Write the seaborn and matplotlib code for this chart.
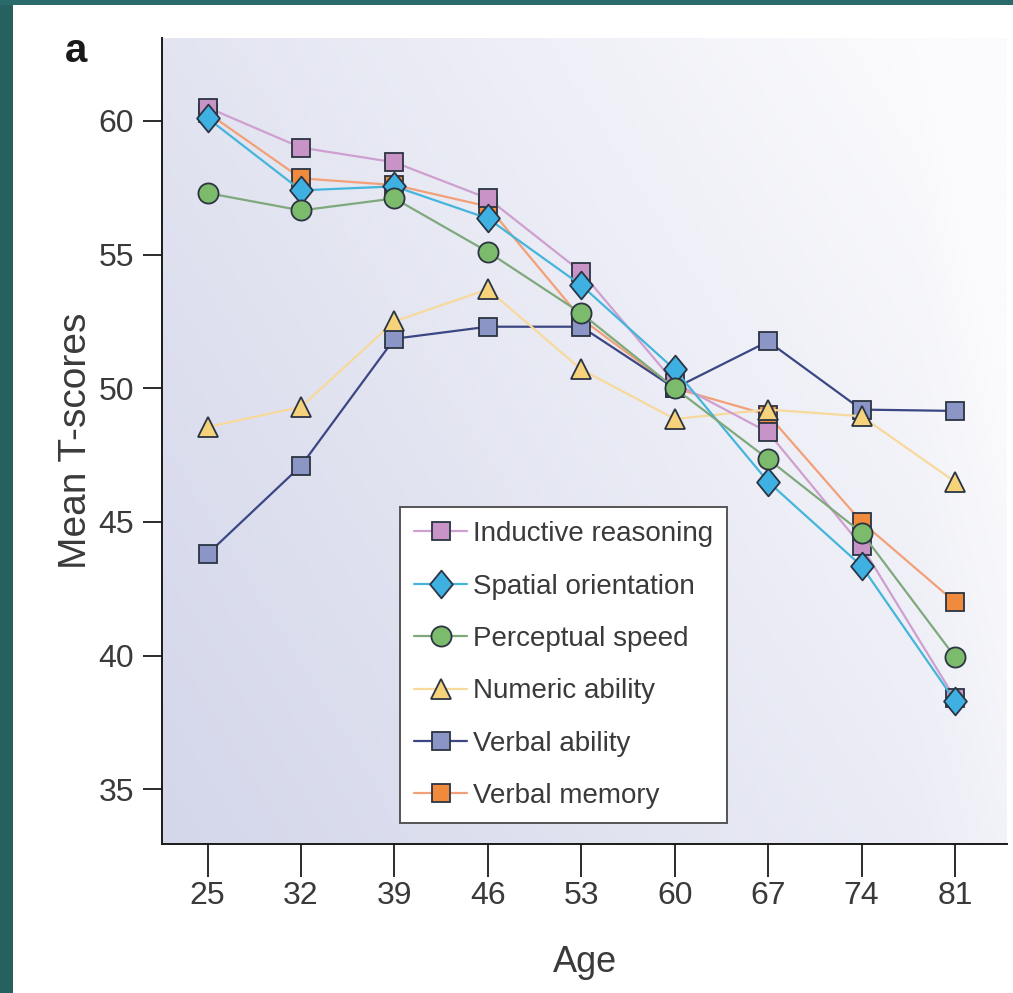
import numpy as np
import pandas as pd
import matplotlib
matplotlib.use("Agg")
import matplotlib.pyplot as plt
import seaborn as sns
from matplotlib import font_manager as fm
from matplotlib.path import Path
from matplotlib.patches import Rectangle

# ---------------- data ----------------
ages = [25, 32, 39, 46, 53, 60, 67, 74, 81]
inductive_reasoning = [60.5, 59.0, 58.45, 57.1, 54.35, 50.2, 48.35, 44.1, 38.4]
spatial_orientation = [60.1, 57.4, 57.55, 56.35, 53.85, 50.7, 46.5, 43.35, 38.3]
perceptual_speed = [57.3, 56.65, 57.1, 55.1, 52.8, 50.0, 47.35, 44.6, 39.95]
numeric_ability = [48.55, 49.3, 52.5, 53.7, 50.7, 48.85, 49.2, 48.95, 46.5]
verbal_ability = [43.8, 47.1, 51.85, 52.3, 52.3, 50.0, 51.75, 49.2, 49.15]
verbal_memory = [60.3, 57.85, 57.6, 56.8, 52.6, 50.0, 49.0, 45.0, 42.0]
yticks = [35, 40, 45, 50, 55, 60]

# ---------------- fonts ----------------
def has_font(name):
    try:
        fm.findfont(fm.FontProperties(family=name), fallback_to_default=False)
        return True
    except Exception:
        return False

main_font = "Liberation Sans" if has_font("Liberation Sans") else "DejaVu Sans"

sns.set_style("white")
plt.rcParams["font.family"] = [main_font, "DejaVu Sans"]

fig = plt.figure(figsize=(10.13, 9.93), dpi=100)
fig.patch.set_facecolor("white")

# teal frame strips
fig.patches.append(Rectangle((0, 0), 13 / 1013, 1, transform=fig.transFigure,
                             facecolor="#27615f", edgecolor="none", zorder=0))
fig.patches.append(Rectangle((0, 1 - 5 / 993), 1, 5 / 993, transform=fig.transFigure,
                             facecolor="#2b6a6a", edgecolor="none", zorder=0))

ax = fig.add_axes([162 / 1013, 149 / 993, 845 / 1013, 806 / 993])

# gradient background
nx, ny = 200, 200
u = np.linspace(0, 1, nx)[None, :]
v = np.linspace(0, 1, ny)[:, None]
t = np.clip(0.68 * u + 0.40 * v + 0.10 * np.clip(u - 0.9, 0, None) / 0.1, 0, 1)
t = t ** 1.1
dark = np.array([0xd4, 0xd7, 0xea]) / 255.0
light = np.array([0xfb, 0xfb, 0xfd]) / 255.0
img = dark[None, None, :] * (1 - t[..., None]) + light[None, None, :] * t[..., None]
ax.imshow(img, extent=[0, 1, 0, 1], transform=ax.transAxes, origin="lower",
          aspect="auto", zorder=0, interpolation="bilinear")

diamond = Path([(0, 1), (0.82, 0), (0, -1), (-0.82, 0), (0, 1)],
               [Path.MOVETO, Path.LINETO, Path.LINETO, Path.LINETO, Path.CLOSEPOLY])

edge = "#2b3442"
series = [
    ("Verbal memory", verbal_memory, "#f2a078", "#f08a3c", "s", 13),
    ("Verbal ability", verbal_ability, "#3b4683", "#8b95c6", "s", 13),
    ("Numeric ability", numeric_ability, "#f8d99c", "#f6d27a", "^", 15),
    ("Inductive reasoning", inductive_reasoning, "#cf9fcf", "#c893c6", "s", 13),
    ("Spatial orientation", spatial_orientation, "#45b5dc", "#3fb0e2", diamond, 20),
    ("Perceptual speed", perceptual_speed, "#7fa97c", "#7dbb6c", "o", 14.5),
]

handles = {}
for i, (name, vals, lc, fc, mk, ms) in enumerate(series):
    df = pd.DataFrame({"Age": ages, "T": vals})
    sns.lineplot(data=df, x="Age", y="T", ax=ax, color=lc, linewidth=1.6,
                 marker=mk, markersize=ms, markerfacecolor=fc,
                 markeredgecolor=edge, markeredgewidth=1.3, zorder=3 + i,
                 label=name)
    handles[name] = ax.get_lines()[-1]

ax.set_xlim(21.58, 84.9)
ax.set_ylim(32.95, 63.1)
ax.set_xticks(ages)
ax.set_xticklabels([str(a) for a in ages])
ax.set_yticks(yticks)
ax.set_yticklabels([str(y) for y in yticks])

for side in ["top", "right"]:
    ax.spines[side].set_visible(False)
for side in ["left", "bottom"]:
    ax.spines[side].set_visible(True)
    ax.spines[side].set_color("#1a1a1a")
    ax.spines[side].set_linewidth(1.4)

ax.tick_params(axis="y", direction="out", length=14, width=1.3, color="#1a1a1a",
               labelsize=23, labelcolor="#3a3a3a", pad=6, left=True)
ax.tick_params(axis="x", direction="out", length=24, width=1.3, color="#1a1a1a",
               labelsize=23, labelcolor="#3a3a3a", pad=3, bottom=True)

ax.set_xlabel("Age", fontsize=26, color="#3a3a3a", labelpad=24)
ax.set_ylabel("Mean T-scores", fontsize=28, color="#3a3a3a", labelpad=3)

order = ["Inductive reasoning", "Spatial orientation", "Perceptual speed",
         "Numeric ability", "Verbal ability", "Verbal memory"]
leg = ax.legend([handles[n] for n in order], order, loc="lower left",
                bbox_to_anchor=(0.282, 0.026), borderaxespad=0, fontsize=20,
                frameon=True, fancybox=False, framealpha=1, facecolor="white",
                edgecolor="#555555", handlelength=1.9, handletextpad=0.2,
                labelspacing=0.95, borderpad=0.5)
leg.get_frame().set_linewidth(1.4)
for txt in leg.get_texts():
    txt.set_color("#3a3a3a")
leg.set_zorder(20)

fig.text(65 / 1013, 1 - 62 / 993, "a", fontsize=29, fontweight="bold",
         color="#1a1a1a", ha="left", va="baseline")

fig.savefig("out.png", dpi=100)
